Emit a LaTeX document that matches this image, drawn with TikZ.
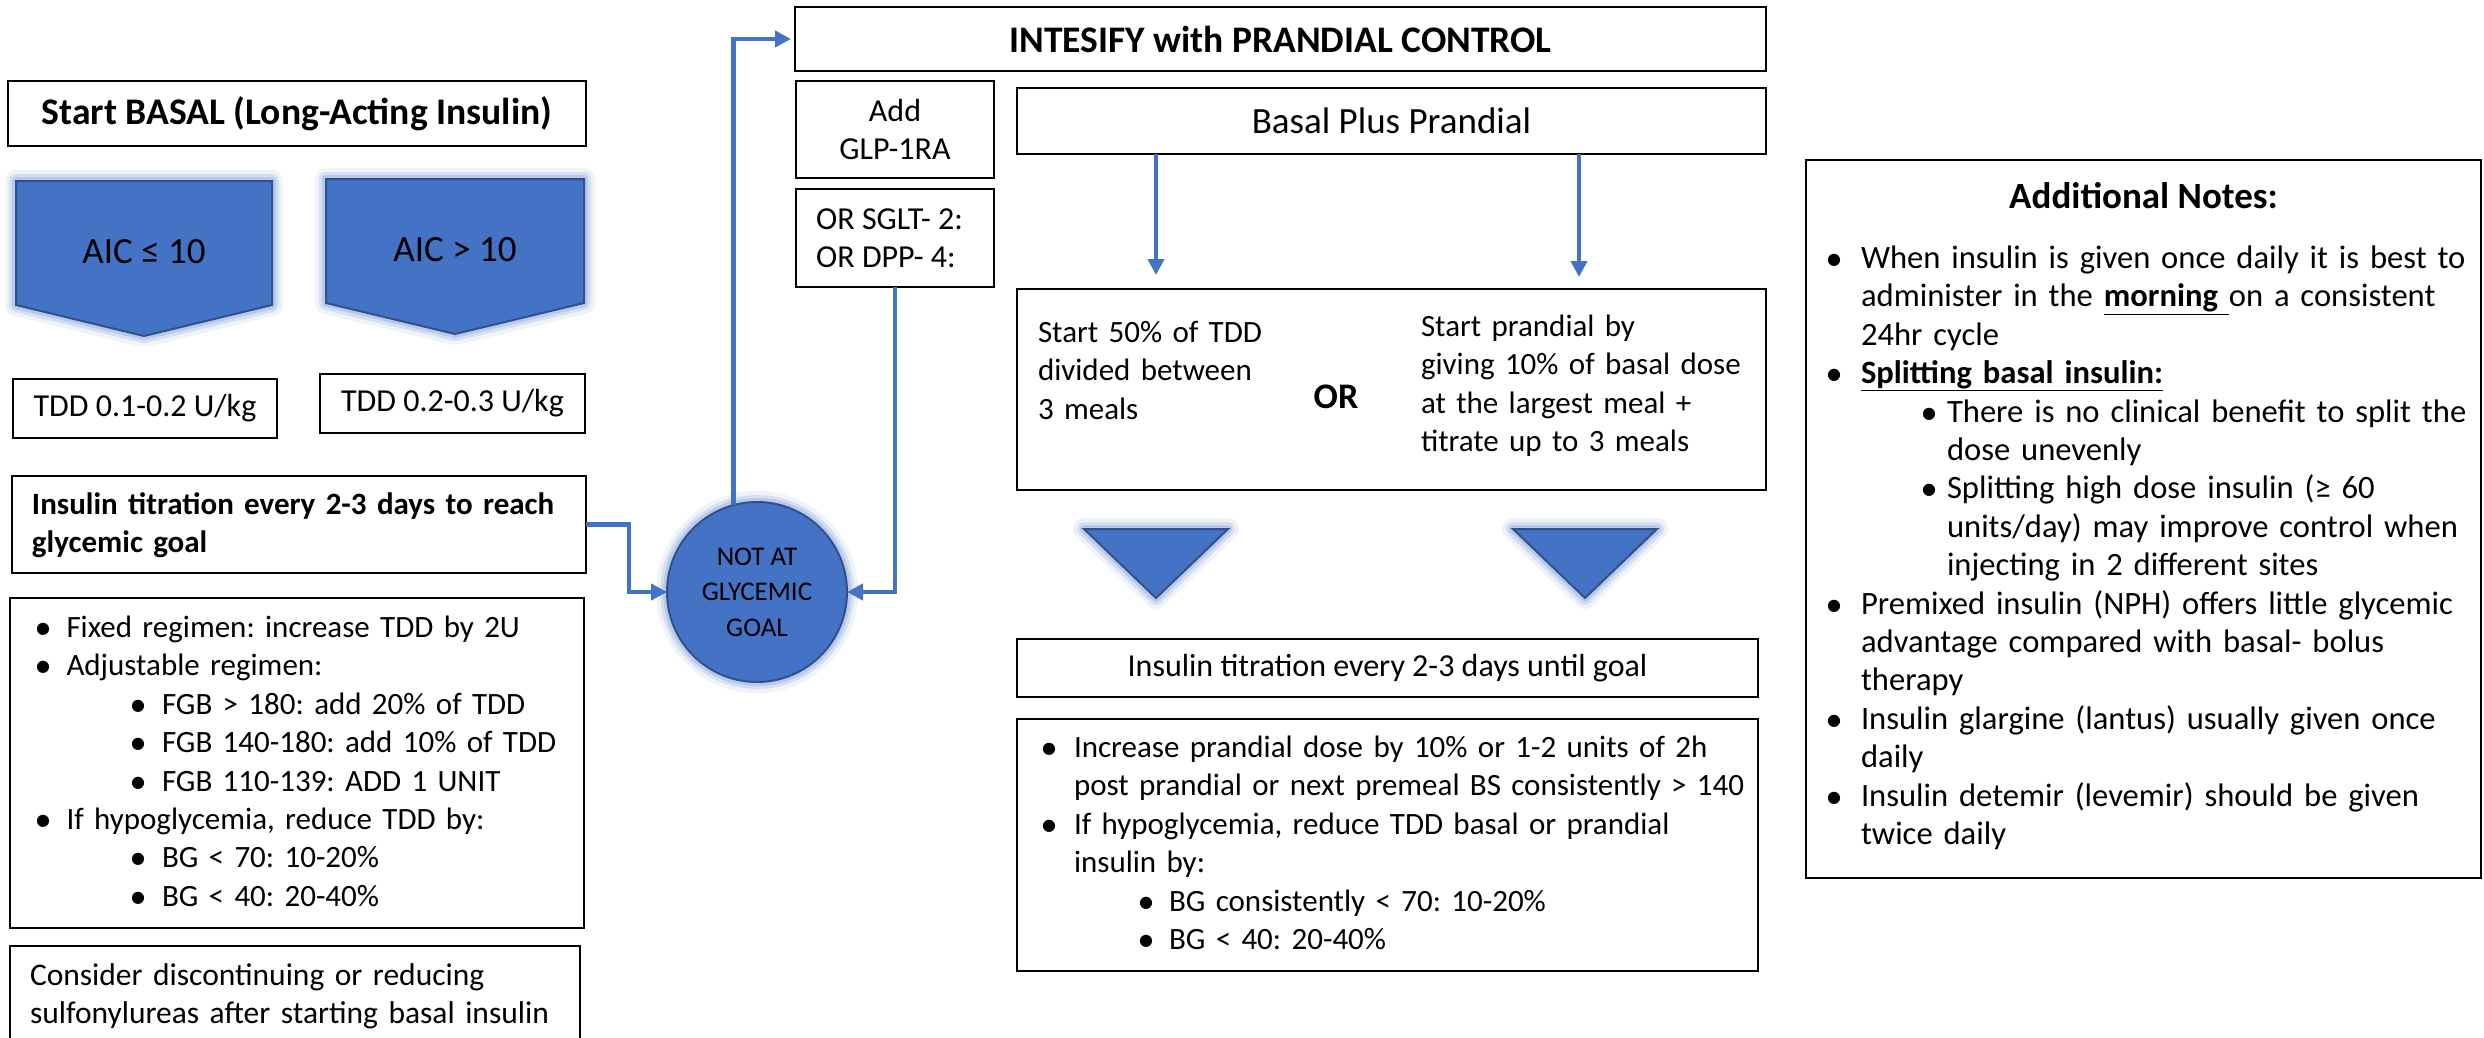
\documentclass[tikz,border=0pt]{standalone}
\usepackage{fontspec}
\setmainfont{Carlito}
\newfontfamily\dejavu{DejaVu Sans}
\usetikzlibrary{arrows.meta}
\definecolor{bl}{HTML}{4472C4}
\definecolor{bldark}{HTML}{2F528F}
\definecolor{glowc}{HTML}{8FAADC}
\frenchspacing
\newcommand\fsN{\fontsize{32}{38.4}\selectfont}
\newcommand\fsS{\fontsize{31}{38.4}\selectfont}
\newcommand\fsW{\fontsize{32.6}{38.4}\selectfont}
\newcommand\fsT{\fontsize{37}{44}\selectfont}
\newcommand\fsC{\fontsize{27}{35.5}\selectfont}
\newcommand\mybul{\raisebox{4pt}{\dejavu\fontsize{16}{16}\selectfont ●}}
\newcommand\myli[3]{\par\noindent\strut\rlap{\hspace*{#1pt}\mybul}\hspace*{#2pt}#3}
\newcommand\mycl[2]{\par\noindent\strut\hspace*{#1pt}#2}
\newcommand\glowshape[1]{%
  \draw[glowc, line width=22pt, opacity=0.15, line join=round] #1;
  \draw[glowc, line width=14pt, opacity=0.25, line join=round] #1;
  \draw[glowc, line width=8pt, opacity=0.4, line join=round] #1;
  \draw[bldark, fill=bl, line width=2pt] #1;}
\begin{document}
\begin{tikzpicture}[x=1pt,y=-1pt,
  box/.style={draw=black, line width=2.2pt, inner sep=0pt, outer sep=0pt, align=center, font=\fsN},
  txt/.style={inner sep=0pt, outer sep=0pt, text width=1000pt, align=left, font=\fsS},
  conn/.style={draw=bl, line width=4.5pt, -{Triangle[length=16pt,width=16pt]}}]
\useasboundingbox (0,0) rectangle (2484,1038);
\fill[white] (0,0) rectangle (2484,1038);

% ---------- left column ----------
\node[box, minimum width=578pt, minimum height=65pt, font=\fontsize{37.6}{44}\selectfont\bfseries] (basal) at (297,113.5) {Start BASAL (Long-Acting Insulin)};

\glowshape{(16,181) -- (272,181) -- (272,305) -- (144,336) -- (16,305) -- cycle}
\glowshape{(326,179) -- (584,179) -- (584,303) -- (455,334) -- (326,303) -- cycle}
\node[font=\fsT] (aic1) at (144,252) {AIC ≤ 10};
\node[font=\fsT] (aic2) at (455,250) {AIC > 10};

\node[box, minimum width=264pt, minimum height=59pt] (tdd1) at (145,408.5) {TDD 0.1-0.2 U/kg};
\node[box, minimum width=265pt, minimum height=59pt] (tdd2) at (452.5,403.5) {TDD 0.2-0.3 U/kg};

\node[box, minimum width=574pt, minimum height=97pt] (titr) at (299,524.5) {};
\node[txt, anchor=north west, font=\fsS\bfseries] (titrT) at (12,476) {%
\mycl{20}{Insulin titration every 2-3 days to reach}%
\mycl{20}{glycemic goal}};

\node[box, minimum width=574pt, minimum height=330pt] (bulL) at (297,763) {};
\node[txt, anchor=north west] (bulLT) at (10,599) {%
\myli{26}{56.5}{Fixed regimen: increase TDD by 2U}%
\myli{26}{56.5}{Adjustable regimen:}%
\myli{121}{152}{FGB > 180: add 20\% of TDD}%
\myli{121}{152}{FGB 140-180: add 10\% of TDD}%
\myli{121}{152}{FGB 110-139: ADD 1 UNIT}%
\myli{26}{56.5}{If hypoglycemia, reduce TDD by:}%
\myli{121}{152}{BG < 70: 10-20\%}%
\myli{121}{152}{BG < 40: 20-40\%}};

\node[box, minimum width=570pt, minimum height=94pt] (cons) at (295,993) {};
\node[txt, anchor=north west, font=\fontsize{31.5}{38.4}\selectfont] (consT) at (10,947) {%
\mycl{20}{Consider discontinuing or reducing}%
\mycl{20}{sulfonylureas after starting basal insulin}};

% ---------- circle ----------
\foreach \w/\o in {22/0.15,14/0.25,8/0.4}
  \draw[glowc, line width=\w pt, opacity=\o] (757,592) circle (90pt);
\node[circle, fill=bl, draw=bldark, line width=2pt, minimum size=180pt, inner sep=0pt, outer sep=0pt, align=center, font=\fsC] (circ) at (757,592) {NOT AT\\GLYCEMIC\\GOAL};

% ---------- middle column ----------
\node[box, minimum width=971pt, minimum height=64pt, font=\fontsize{37.5}{44}\selectfont\bfseries] (intes) at (1280.5,39) {INTESIFY with PRANDIAL CONTROL};
\node[box, minimum width=198pt, minimum height=97pt] (add) at (895,129.5) {Add\\GLP-1RA};
\node[box, minimum width=198pt, minimum height=98pt] (orbox) at (895,238) {};
\node[anchor=west, align=left, inner sep=0pt, font=\fsN] (orT) at (816,238) {OR SGLT- 2:\\OR DPP- 4:};

\node[box, minimum width=749pt, minimum height=66pt, font=\fsT] (bpp) at (1391.5,121) {Basal Plus Prandial};
\node[box, minimum width=749pt, minimum height=201pt] (startor) at (1391.5,389.5) {};
\node[txt, anchor=north west] (startL) at (1017,304) {%
\mycl{21}{Start 50\% of TDD}%
\mycl{21}{divided between}%
\mycl{21}{3 meals}};
\node[font=\fontsize{36}{40}\selectfont\bfseries] (orW) at (1336,397) {OR};
\node[txt, anchor=north west] (startR) at (1017,298) {%
\mycl{404}{Start prandial by}%
\mycl{404}{giving 10\% of basal dose}%
\mycl{404}{at the largest meal +}%
\mycl{404}{titrate up to 3 meals}};

\coordinate (a1) at (1156,275);
\coordinate (a2) at (1579,277);
\draw[conn] (bpp.south -| a1) -- (a1);
\draw[conn] (bpp.south -| a2) -- (a2);

\glowshape{(1084,529) -- (1228,529) -- (1156,598) -- cycle}
\glowshape{(1513,529) -- (1657,529) -- (1585,598) -- cycle}

\node[box, minimum width=741pt, minimum height=58pt] (titrR) at (1387.5,668) {Insulin titration every 2-3 days until goal};

\node[box, minimum width=741pt, minimum height=252pt] (bulR) at (1387.5,845) {};
\node[txt, anchor=north west] (bulRT) at (1017,719) {%
\myli{25}{57}{Increase prandial dose by 10\% or 1-2 units of 2h}%
\mycl{57}{post prandial or next premeal BS consistently > 140}%
\myli{25}{57}{If hypoglycemia, reduce TDD basal or prandial}%
\mycl{57}{insulin by:}%
\myli{122}{152}{BG consistently < 70: 10-20\%}%
\myli{122}{152}{BG < 40: 20-40\%}};

% ---------- notes ----------
\node[box, minimum width=675pt, minimum height=718pt] (notes) at (2143.5,519) {};
\node[font=\fsT\bfseries] (notesH) at (2143.5,196) {Additional Notes:};
\node[txt, anchor=north west, text width=900pt, font=\fsW] (notesT) at (1806,230) {%
\myli{21}{55}{When insulin is given once daily it is best to}%
\mycl{55}{administer in the \underline{\textbf{morning }}on a consistent}%
\mycl{55}{24hr cycle}%
\myli{21}{55}{\underline{\textbf{Splitting basal insulin:}}}%
\myli{116}{141}{There is no clinical benefit to split the}%
\mycl{141}{dose unevenly}%
\myli{116}{141}{Splitting high dose insulin (≥ 60}%
\mycl{141}{units/day) may improve control when}%
\mycl{141}{injecting in 2 different sites}%
\myli{21}{55}{Premixed insulin (NPH) offers little glycemic}%
\mycl{55}{advantage compared with basal- bolus}%
\mycl{55}{therapy}%
\myli{21}{55}{Insulin glargine (lantus) usually given once}%
\mycl{55}{daily}%
\myli{21}{55}{Insulin detemir (levemir) should be given}%
\mycl{55}{twice daily}};

% ---------- connectors ----------
\draw[conn] (titr.east) -- ++(43,0) |- (circ.west);
\draw[conn, shorten >=4pt] (circ.105.5) |- (intes.west);
\draw[conn] (orbox.south) |- (circ.east);
\end{tikzpicture}
\end{document}
